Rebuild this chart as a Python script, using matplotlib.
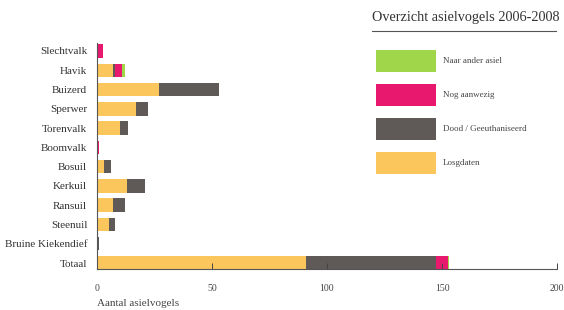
import matplotlib
matplotlib.use("Agg")
import matplotlib.pyplot as plt
from matplotlib.patches import Rectangle
from matplotlib.lines import Line2D
import numpy as np

plt.rcParams['font.family'] = ['Liberation Serif', 'DejaVu Serif']

categories = ["Slechtvalk", "Havik", "Buizerd", "Sperwer", "Torenvalk", "Boomvalk",
              "Bosuil", "Kerkuil", "Ransuil", "Steenuil", "Bruine Kiekendief", "Totaal"]
losgelaten = [0, 7, 27, 17, 10, 0, 3, 13, 7, 5, 0, 91]
dood = [0, 1, 26, 5, 3.5, 0, 3, 8, 5, 3, 1, 56.5]
aanwezig = [2.5, 3, 0, 0, 0, 1, 0, 0, 0, 0, 0, 5]
ander_asiel = [0, 1, 0, 0, 0, 0, 0, 0, 0, 0, 0, 0.5]

series = ["Naar ander asiel", "Nog aanwezig", "Dood / Geeuthaniseerd", "Losgdaten"]
colors = {"Naar ander asiel": "#9fd64a", "Nog aanwezig": "#e8186f",
          "Dood / Geeuthaniseerd": "#5f5958", "Losgdaten": "#fbc65c"}
xticks = [0, 50, 100, 150, 200]

W, H = 564, 310
fig = plt.figure(figsize=(W / 100, H / 100), dpi=100)
ax = fig.add_axes([97 / W, 1 - 269 / H, (557 - 97) / W, (269 - 43) / H])

y = np.arange(len(categories))
h = 0.7
left = np.zeros(len(categories))
for name, vals in [("Losgdaten", losgelaten), ("Dood / Geeuthaniseerd", dood),
                   ("Nog aanwezig", aanwezig), ("Naar ander asiel", ander_asiel)]:
    v = np.array(vals, dtype=float)
    ax.barh(y, v, left=left, height=h, color=colors[name], edgecolor='none')
    left += v

ax.set_xlim(0, 200)
ax.set_ylim(11.31, -0.415)
ax.set_yticks(y)
ax.set_yticklabels(categories, fontsize=8, color='#333333')
ax.tick_params(axis='y', length=0, pad=7)
ax.set_xticks(xticks)
ax.set_xticklabels([str(t) for t in xticks], fontsize=7, color='#444444')
ax.tick_params(axis='x', direction='in', length=4, width=0.7, color='#444444', pad=11)
for s in ['top', 'right']:
    ax.spines[s].set_visible(False)
for s in ['left', 'bottom']:
    ax.spines[s].set_color('#555555')
    ax.spines[s].set_linewidth(0.8)

fig.text(97 / W, 1 - 304 / H, "Aantal asielvogels", fontsize=8, color='#444444',
         ha='left', va='center')

# legend block
fig.text(372 / W, 1 - 17 / H, "Overzicht asielvogels 2006-2008", fontsize=10.3,
         color='#333333', ha='left', va='center')
fig.add_artist(Line2D([372 / W, 556 / W], [1 - 31 / H, 1 - 31 / H], color='#555555',
                      linewidth=0.8, transform=fig.transFigure))
tops = [50, 84, 118, 152]
for name, t in zip(series, tops):
    fig.add_artist(Rectangle((376 / W, 1 - (t + 22) / H), 60 / W, 22 / H,
                             facecolor=colors[name], edgecolor='none',
                             transform=fig.transFigure))
    fig.text(443 / W, 1 - (t + 11) / H, name, fontsize=6.5, color='#444444',
             ha='left', va='center')

fig.savefig("out.png", dpi=100)
